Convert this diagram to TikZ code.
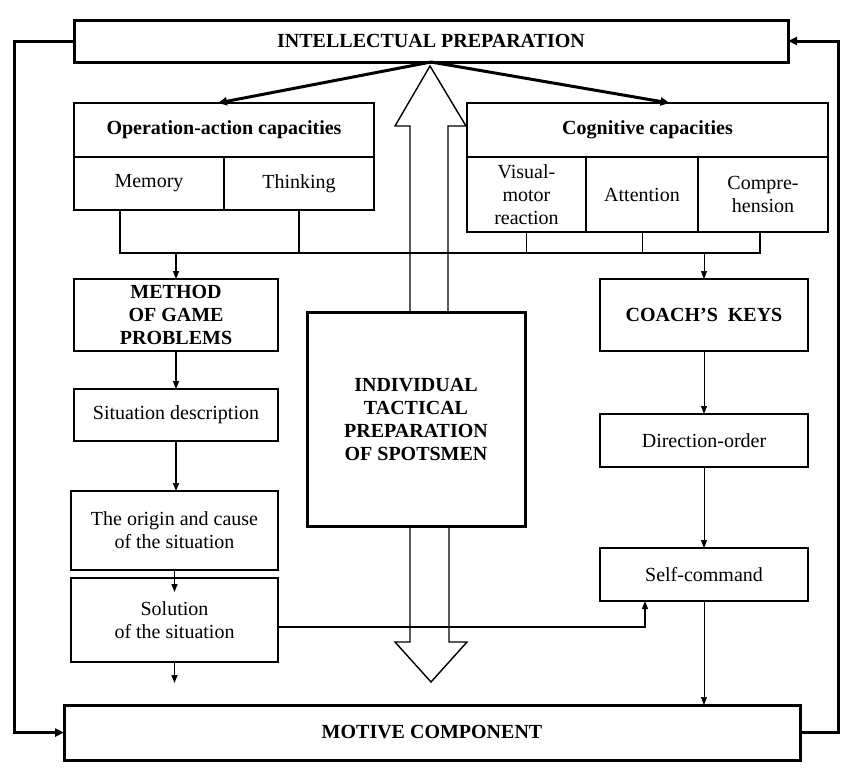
\documentclass[tikz,border=0pt]{standalone}
\usepackage{fontspec}
\setmainfont{Liberation Serif}
\usetikzlibrary{arrows.meta,positioning,calc}

\tikzset{
  box/.style={draw, line width=1.4pt, outer sep=0pt, inner sep=1pt, align=center, font=\fontsize{20}{23}\selectfont},
  boldbox/.style={box, font=\fontsize{20}{23}\selectfont\bfseries},
  heavybox/.style={boldbox, line width=3pt},
  link/.style={line width=1.4pt, -{Triangle[length=8pt,width=6pt]}},
  thinlink/.style={line width=0.7pt, -{Triangle[length=8pt,width=6pt]}},
  bigloop/.style={line width=3pt, -{Triangle[length=9pt,width=8pt]}},
}

\begin{document}
\begin{tikzpicture}[x=1pt, y=-1pt]
    \useasboundingbox (0,0) rectangle (852,774);

    \node[heavybox, minimum width=714pt, minimum height=42pt] (intel) at (431,41) {INTELLECTUAL PREPARATION};
    \node[heavybox, minimum width=736pt, minimum height=55pt] (motive) at (432,732.5) {MOTIVE COMPONENT};

    % hollow double arrow behind the centre box
    \draw[line width=1.4pt, fill=white] (410,312) -- (410,126) -- (395,126) -- (430,66) -- (466,126) -- (448,126) -- (448,312);
    \draw[line width=1.4pt, fill=white] (410,526) -- (410,642) -- (395,642) -- (431,682) -- (467,642) -- (449,642) -- (449,526);

    \node[heavybox, minimum width=218pt, minimum height=214pt] (indiv) at (416,419) {INDIVIDUAL\\TACTICAL\\PREPARATION\\OF SPOTSMEN};

    \node[boldbox, minimum width=300pt, minimum height=54pt] (opcap) at (224,130) {Operation-action capacities};
    \node[box, minimum width=150pt, minimum height=53pt, anchor=north west] (memory) at (opcap.south west) {Memory};
    \node[box, minimum width=150pt, minimum height=53pt, right=0pt of memory] (thinking) {Thinking};

    \node[boldbox, minimum width=361pt, minimum height=54pt] (cogcap) at (647.5,130) {Cognitive capacities};
    \node[box, minimum width=119pt, minimum height=75pt, anchor=north west] (visual) at (cogcap.south west) {Visual-\\motor\\reaction};
    \node[box, minimum width=112pt, minimum height=75pt, right=0pt of visual] (attention) {Attention};
    \node[box, minimum width=130pt, minimum height=75pt, right=0pt of attention] (compre) {Compre-\\hension};

    \node[boldbox, minimum width=204pt, minimum height=72pt] (method) at (176,315) {METHOD\\OF GAME\\PROBLEMS};
    \node[box, minimum width=204pt, minimum height=52pt] (sitdesc) at (176,415) {Situation description};
    \node[box, minimum width=207pt, minimum height=79pt] (origin) at (174.5,530.5) {The origin and cause\\of the situation};
    \node[box, minimum width=207pt, minimum height=84pt] (solution) at (174.5,620) {Solution\\of the situation};

    \node[boldbox, minimum width=208pt, minimum height=72pt] (coach) at (704,315) {COACH’S~~KEYS};
    \node[box, minimum width=208pt, minimum height=53pt] (direction) at (704,440.5) {Direction-order};
    \node[box, minimum width=208pt, minimum height=53pt] (selfcmd) at (704,574.5) {Self-command};

    \draw[bigloop] (intel.south) -- ([xshift=-6pt]opcap.north);
    \draw[bigloop] (intel.south) -- ([xshift=22pt]cogcap.north);
    \draw[bigloop] (intel.west) -- ++(-60,0) |- (motive.west);
    \draw[bigloop] (motive.east) -- ++(38,0) |- (intel.east);

    % collecting line under the capacities
    \coordinate (busL) at (120,253);
    \coordinate (busR) at (760,253);
    \draw[line width=1.4pt] (busL |- memory.south) -- (busL) -- (busR) -- (busR |- compre.south);
    \draw[line width=1.4pt] (thinking.south) -- (thinking.south |- busL);
    \draw[line width=1.4pt] (visual.south) -- (visual.south |- busL);
    \draw[line width=0.7pt] (attention.south) -- (attention.south |- busL);
    \draw[link] (method.north |- busL) -- (method.north);
    \draw[thinlink] (coach.north |- busL) -- (coach.north);

    \coordinate (solin) at ([yshift=-22pt]origin.south);
    \coordinate (solout) at ([yshift=-21pt]solution.south);
    \draw[link] (method) -- (sitdesc);
    \draw[link] (sitdesc.south) -- (sitdesc.south |- origin.north);
    \draw[link] (origin.south) -- (solin);
    \draw[link] (solution.south) -- (solout);
    \draw[link] ([yshift=-7pt]solution.east) -| ([xshift=-59pt]selfcmd.south);

    \draw[thinlink] (coach) -- (direction);
    \draw[thinlink] (direction) -- (selfcmd);
    \draw[thinlink] (selfcmd.south) -- (selfcmd.south |- motive.north);
\end{tikzpicture}
\end{document}
